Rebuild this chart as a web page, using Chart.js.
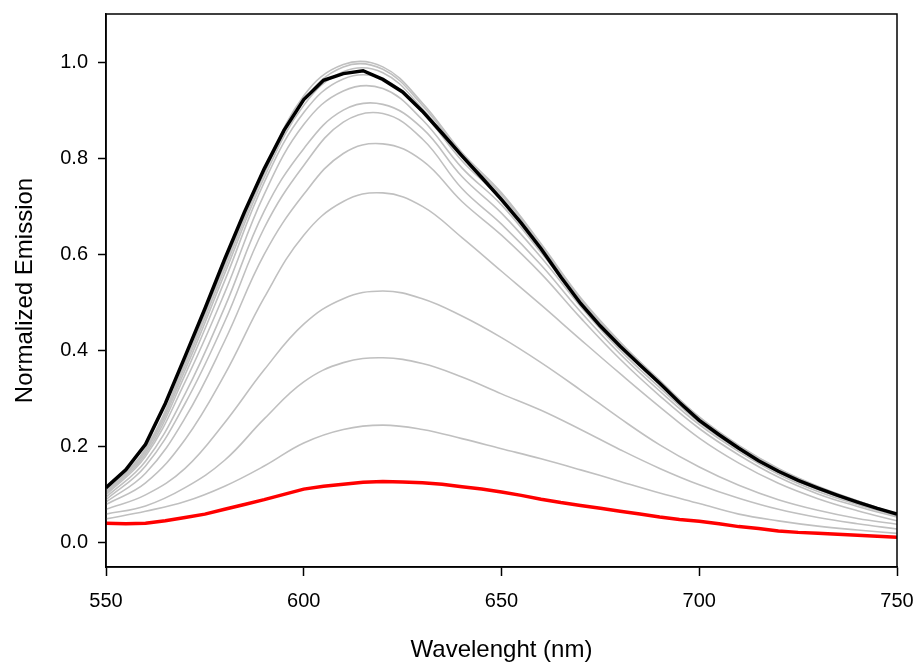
<!DOCTYPE html>
<html>
<head>
<meta charset="utf-8">
<script src="https://cdn.jsdelivr.net/npm/chart.js@4.4.0/dist/chart.umd.min.js"></script>
<style>
  html, body { margin: 0; padding: 0; background: #fff; }
  canvas { display: block; }
</style>
</head>
<body>
<canvas id="chart" width="915" height="663"></canvas>
<script>
// wavelengths (nm)
const wl5 = [550, 555, 560, 565, 570, 575, 580, 585, 590, 595, 600, 605, 610, 615, 620, 625, 630, 635, 640, 645,
             650, 655, 660, 665, 670, 675, 680, 685, 690, 695, 700, 705, 710, 715, 720, 725, 730, 735, 740, 745, 750]
const wl10 = [550, 560, 570, 580, 590, 600, 610, 620, 630, 640, 650, 660, 670, 680, 690, 700, 710, 720, 730, 740, 750]

// final spectrum (black) and starting spectrum (red)
const blackCurve = [0.115, 0.152, 0.205, 0.29, 0.388, 0.487, 0.59, 0.688, 0.778, 0.858, 0.922, 0.962, 0.976, 0.982, 0.964, 0.938, 0.898, 0.852, 0.805, 0.76,
                    0.714, 0.665, 0.612, 0.553, 0.498, 0.451, 0.409, 0.37, 0.332, 0.292, 0.255, 0.225, 0.197, 0.171, 0.149, 0.13, 0.114, 0.099, 0.085, 0.072, 0.06]
const redCurve = [0.041, 0.04, 0.041, 0.046, 0.053, 0.06, 0.07, 0.08, 0.09, 0.101, 0.112, 0.118, 0.122, 0.126, 0.128, 0.127, 0.125, 0.122, 0.117, 0.112,
                  0.106, 0.099, 0.091, 0.084, 0.078, 0.072, 0.066, 0.06, 0.054, 0.049, 0.045, 0.04, 0.034, 0.03, 0.025, 0.022, 0.02, 0.018, 0.016, 0.014, 0.012]

// intermediate spectra (gray)
const gray1 = [0.05, 0.066, 0.086, 0.118, 0.16, 0.208, 0.236, 0.245, 0.236, 0.217, 0.196, 0.175, 0.152, 0.128, 0.104, 0.082, 0.06, 0.046, 0.035, 0.027, 0.02]
const gray2 = [0.06, 0.077, 0.115, 0.172, 0.258, 0.335, 0.375, 0.385, 0.373, 0.345, 0.31, 0.276, 0.236, 0.194, 0.155, 0.121, 0.093, 0.07, 0.053, 0.04, 0.029]
const gray3 = [0.07, 0.1, 0.155, 0.25, 0.36, 0.455, 0.508, 0.524, 0.508, 0.472, 0.427, 0.375, 0.318, 0.259, 0.204, 0.158, 0.12, 0.09, 0.068, 0.051, 0.039]
const gray4 = [0.08, 0.125, 0.215, 0.35, 0.51, 0.64, 0.71, 0.728, 0.7, 0.635, 0.565, 0.495, 0.423, 0.352, 0.283, 0.218, 0.166, 0.124, 0.092, 0.067, 0.046]
const gray5 = [0.085, 0.145, 0.26, 0.42, 0.6, 0.725, 0.81, 0.83, 0.795, 0.71, 0.64, 0.56, 0.468, 0.382, 0.306, 0.238, 0.183, 0.137, 0.102, 0.076, 0.054]
const gray6 = [0.09, 0.16, 0.29, 0.46, 0.655, 0.785, 0.875, 0.893, 0.84, 0.737, 0.663, 0.578, 0.481, 0.393, 0.316, 0.246, 0.19, 0.143, 0.107, 0.08, 0.056]
const gray7 = [0.095, 0.17, 0.31, 0.49, 0.69, 0.82, 0.9, 0.912, 0.862, 0.762, 0.686, 0.594, 0.492, 0.401, 0.323, 0.251, 0.194, 0.147, 0.111, 0.083, 0.057]
const gray8 = [0.1, 0.18, 0.335, 0.52, 0.725, 0.87, 0.94, 0.945, 0.88, 0.78, 0.703, 0.604, 0.499, 0.408, 0.33, 0.256, 0.197, 0.15, 0.113, 0.085, 0.058]
const gray9 = [0.103, 0.185, 0.35, 0.545, 0.75, 0.895, 0.965, 0.965, 0.895, 0.795, 0.714, 0.611, 0.502, 0.411, 0.333, 0.258, 0.199, 0.151, 0.115, 0.086, 0.059]
const gray10 = [0.105, 0.19, 0.36, 0.56, 0.76, 0.91, 0.98, 0.978, 0.903, 0.803, 0.719, 0.615, 0.505, 0.414, 0.335, 0.26, 0.2, 0.153, 0.116, 0.087, 0.059]
const gray11 = [0.107, 0.193, 0.368, 0.57, 0.768, 0.92, 0.99, 0.985, 0.91, 0.808, 0.724, 0.618, 0.507, 0.416, 0.337, 0.261, 0.202, 0.154, 0.117, 0.087, 0.06]
const gray12 = [0.109, 0.196, 0.375, 0.578, 0.772, 0.93, 0.995, 0.99, 0.915, 0.812, 0.728, 0.622, 0.51, 0.418, 0.338, 0.262, 0.203, 0.155, 0.118, 0.088, 0.06]

const xTicks = [550, 600, 650, 700, 750]
const yTicks = [0.0, 0.2, 0.4, 0.6, 0.8, 1.0]

const grays = [gray1, gray2, gray3, gray4, gray5, gray6, gray7, gray8, gray9, gray10, gray11, gray12]

function toPoints(xs, ys){
    return ys.map((y, i) => ({x: xs[i], y: y}))
}

const font = "'Liberation Sans', Arial, sans-serif"

// box round the plot area
const frame = {
    id: "frame",
    afterDraw(chart){
        const {ctx, chartArea: a} = chart
        ctx.save()
        ctx.strokeStyle = "#000"
        ctx.lineWidth = 1.5
        ctx.strokeRect(a.left, a.top, a.right - a.left, a.bottom - a.top)
        ctx.restore()
    }
}

// fixed axis sizes, no extra room for label overflow
function noPad(s){
    s.paddingLeft = 0
    s.paddingRight = 0
    s.paddingTop = 0
    s.paddingBottom = 0
}

const datasets = [
    {data: toPoints(wl5, blackCurve), borderColor: "#000", borderWidth: 3.5, tension: 0},
    {data: toPoints(wl5, redCurve), borderColor: "#ff0000", borderWidth: 3.5, tension: 0},
]
grays.forEach(g => {
    datasets.push({data: toPoints(wl10, g), borderColor: "rgb(192, 192, 192)", borderWidth: 1.6, tension: 0.4})
})

new Chart(document.getElementById("chart").getContext("2d"), {
    type: "line",
    data: {datasets: datasets},
    options: {
        responsive: false,
        animation: false,
        events: [],
        elements: {point: {radius: 0}},
        layout: {padding: {top: 14, right: 18, left: 0, bottom: 0}},
        plugins: {legend: {display: false}, tooltip: {enabled: false}},
        scales: {
            x: {
                type: "linear",
                min: 550,
                max: 750,
                afterFit: s => { s.height = 96; noPad(s) },
                afterBuildTicks: s => { s.ticks = xTicks.map(v => ({value: v})) },
                grid: {drawOnChartArea: false, tickLength: 9, tickColor: "#000", tickWidth: 1.5},
                border: {color: "#000", width: 1.5},
                ticks: {color: "#000", font: {family: font, size: 20}, padding: 13, maxRotation: 0, callback: v => String(v)},
                title: {display: true, text: "Wavelenght (nm)", color: "#000", font: {family: font, size: 24, lineHeight: 1.05}, padding: {top: 0, bottom: 0}}
            },
            y: {
                type: "linear",
                min: -0.05,
                max: 1.1,
                afterFit: s => { s.width = 106; noPad(s) },
                afterBuildTicks: s => { s.ticks = yTicks.map(v => ({value: v})) },
                grid: {drawOnChartArea: false, tickLength: 8, tickColor: "#000", tickWidth: 1.5},
                border: {color: "#000", width: 1.5},
                ticks: {color: "#000", font: {family: font, size: 20}, padding: 10, callback: v => v.toFixed(1)},
                title: {display: true, text: "Normalized Emission", color: "#000", font: {family: font, size: 24}, padding: {top: 11, bottom: 0}}
            }
        }
    },
    plugins: [frame]
})
</script>
</body>
</html>
